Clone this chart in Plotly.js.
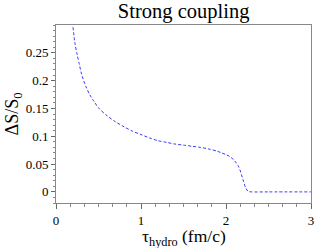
<!DOCTYPE html>
<html>
<head>
<meta charset="utf-8">
<script src="https://cdn.plot.ly/plotly-3.0.1.min.js"></script>
<style>html,body{margin:0;padding:0;background:#fff;}#chart{width:315px;height:248px;}</style>
</head>
<body>
<div id="chart"></div>
<script>
const tauHydro = [0.2, 0.225, 0.25, 0.275, 0.3, 0.35, 0.4, 0.45, 0.5, 0.6, 0.7, 0.8, 0.9, 1.0, 1.1, 1.2, 1.3, 1.4, 1.5, 1.6, 1.7, 1.8, 1.9, 1.95, 2.0, 2.05, 2.1, 2.15, 2.2, 2.23, 2.26, 2.3, 2.5, 3.0];
const deltaS = [0.296, 0.265, 0.246, 0.229, 0.212, 0.190, 0.174, 0.162, 0.151, 0.137, 0.126, 0.117, 0.109, 0.103, 0.097, 0.092, 0.089, 0.086, 0.084, 0.082, 0.080, 0.077, 0.073, 0.070, 0.067, 0.063, 0.056, 0.045, 0.022, 0.008, 0.001, 0, 0, 0];
const xTicks = [0, 1, 2, 3];
const yTicks = [0, 0.05, 0.1, 0.15, 0.2, 0.25];
const yTickLabels = ["0", "0.05", "0.1", "0.15", "0.2", "0.25"];

const serif = "Liberation Serif, Times New Roman, serif";
const data = [{
  x: tauHydro, y: deltaS, type: "scatter", mode: "lines",
  line: {color: "#3a3aff", width: 1, dash: "3px,2px", shape: "spline", smoothing: 0.8},
  hoverinfo: "skip"
}];
const layout = {
  width: 315, height: 248,
  margin: {l: 56, r: 4, t: 25, b: 45},
  paper_bgcolor: "#fff", plot_bgcolor: "#fff",
  showlegend: false,
  title: {text: "Strong coupling", font: {family: serif, size: 20.5, color: "#000"}, x: 0.583, xanchor: "center", y: 0.955, yanchor: "middle"},
  xaxis: {
    range: [0, 3], tickvals: xTicks, ticktext: xTicks.map(String),
    ticks: "outside", ticklen: 5, tickcolor: "#666", tickwidth: 1,
    showline: true, linecolor: "#888", linewidth: 1, mirror: true,
    showgrid: false, zeroline: false,
    tickfont: {family: serif, size: 13, color: "#000"},
    minor: {dtick: 1/6, tick0: 0, ticks: "outside", ticklen: 3, tickcolor: "#888", showgrid: false}
  },
  yaxis: {
    range: [-0.02, 0.3], tickvals: yTicks, ticktext: yTickLabels,
    ticks: "outside", ticklen: 4, tickcolor: "#666", tickwidth: 1,
    showline: true, linecolor: "#888", linewidth: 1, mirror: true,
    showgrid: false, zeroline: false,
    tickfont: {family: serif, size: 13, color: "#000"},
    minor: {dtick: 0.01, tick0: 0, ticks: "outside", ticklen: 2, tickcolor: "#888", showgrid: false},
    title: {text: "ΔS/S<sub>0</sub>", font: {family: serif, size: 18, color: "#000"}, standoff: 2}
  },
  annotations: [{
    text: "τ<sub>hydro</sub> (fm/c)", xref: "paper", yref: "paper",
    x: 0.5, y: -0.117, xanchor: "center", yanchor: "top", showarrow: false,
    font: {family: serif, size: 17.5, color: "#000"}
  }]
};
Plotly.newPlot("chart", data, layout, {displayModeBar: false, staticPlot: true});
</script>
</body>
</html>
